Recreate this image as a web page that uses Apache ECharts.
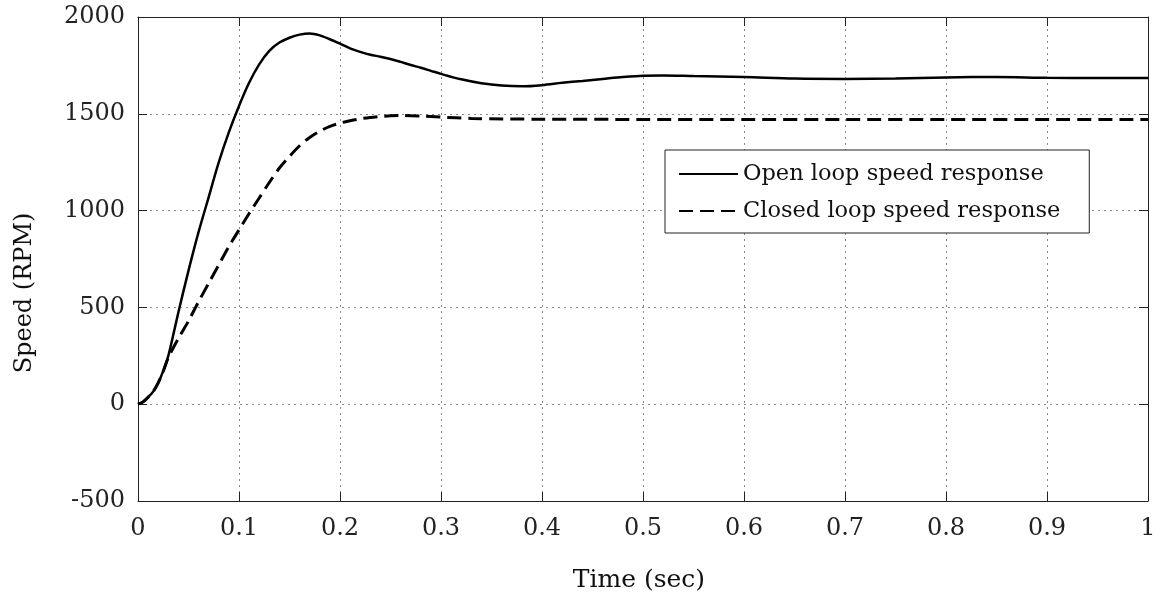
<!DOCTYPE html>
<html>
<head>
<meta charset="utf-8">
<script src="https://cdn.jsdelivr.net/npm/echarts@6/dist/echarts.min.js"></script>
<style>
html,body{margin:0;padding:0;background:#fff;}
#chart{width:1160px;height:597px;}
</style>
</head>
<body>
<div id="chart"></div>
<script>
// ---- data ----
var openTime = [0,0.005,0.01,0.015,0.02,0.025,0.03,0.035,0.04,0.05,0.06,0.07,0.08,0.09,0.1,0.11,0.12,0.13,0.14,0.15,0.16,0.17,0.18,0.19,0.2,0.21,0.22,0.23,0.24,0.25,0.26,0.27,0.28,0.29,0.3,0.32,0.34,0.36,0.38,0.4,0.42,0.44,0.46,0.48,0.5,0.52,0.55,0.6,0.65,0.7,0.75,0.8,0.85,0.9,0.95,1.0];
var openSpeed = [0,12,36,65,110,172,250,360,475,690,890,1070,1250,1405,1540,1660,1755,1825,1868,1893,1909,1915,1905,1885,1862,1838,1820,1805,1795,1783,1768,1752,1738,1722,1706,1678,1658,1646,1642,1648,1660,1670,1680,1690,1697,1698,1695,1690,1682,1680,1682,1688,1690,1686,1685,1685];
var closedTime = [0,0.005,0.01,0.015,0.02,0.025,0.03,0.04,0.05,0.06,0.07,0.08,0.09,0.1,0.11,0.12,0.13,0.14,0.15,0.16,0.17,0.18,0.19,0.2,0.21,0.22,0.23,0.24,0.25,0.26,0.28,0.3,0.33,0.4,0.5,0.6,0.7,0.8,0.9,1.0];
var closedSpeed = [0,12,36,65,110,170,240,340,430,530,625,720,815,900,985,1065,1145,1220,1280,1335,1378,1410,1435,1452,1464,1474,1481,1486,1490,1491,1488,1483,1476,1472,1471,1470,1470,1470,1470,1470];
var seriesNames = ['Open loop speed response','Closed loop speed response'];
var xTicks = [0,0.1,0.2,0.3,0.4,0.5,0.6,0.7,0.8,0.9,1];
var yTicks = [-500,0,500,1000,1500,2000];
var xTitle = 'Time (sec)';
var yTitle = 'Speed (RPM)';

function pairs(xs, ys){ return xs.map(function(x,i){ return [x, ys[i]]; }); }

var FONT = 'DejaVu Serif';
var AX = '#222';
var chart = echarts.init(document.getElementById('chart'), null, {renderer:'canvas'});

var xMin = xTicks[0], xMax = xTicks[xTicks.length-1], xInt = +(xTicks[1]-xTicks[0]).toFixed(3);
var yMin = yTicks[0], yMax = yTicks[yTicks.length-1], yInt = yTicks[1]-yTicks[0];

function xAx(pos, primary){
  return {
    type:'value', position:pos, min:xMin, max:xMax, interval:xInt,
    axisLine:{show:true, onZero:false, lineStyle:{color:AX, width:1}},
    axisTick:{show:true, inside:true, length:9, lineStyle:{color:AX, width:1}},
    axisLabel:{show:primary, margin:16, color:'#222', fontFamily:FONT, fontSize:24,
      formatter:function(v){ return String(Number(v.toFixed(1))); }},
    splitLine:{show:primary, lineStyle:{color:'#8a8a8a', type:[2,4], width:1}}
  };
}
function yAx(pos, primary){
  return {
    type:'value', position:pos, min:yMin, max:yMax, interval:yInt,
    axisLine:{show:true, onZero:false, lineStyle:{color:AX, width:1}},
    axisTick:{show:true, inside:true, length:9, lineStyle:{color:AX, width:1}},
    axisLabel:{show:primary, margin:13, color:'#222', fontFamily:FONT, fontSize:24,
      formatter:function(v){ return String(v); }},
    splitLine:{show:primary, lineStyle:{color:'#8a8a8a', type:[2,4], width:1}}
  };
}

chart.setOption({
  animation:false,
  backgroundColor:'#fff',
  grid:{left:138, top:17, right:12, bottom:96, containLabel:false},
  xAxis:[xAx('bottom', true), xAx('top', false)],
  yAxis:[yAx('left', true), yAx('right', false)],
  legend:{
    orient:'vertical', left:665, top:150,
    padding:[9, 29, 7, 13],
    itemWidth:59, itemHeight:14, itemGap:7,
    backgroundColor:'#fff', borderColor:'#222', borderWidth:1,
    itemStyle:{color:'rgba(0,0,0,0)', borderWidth:0, opacity:0},
    textStyle:{fontFamily:FONT, fontSize:22.5, color:'#111', lineHeight:30},
    data:seriesNames
  },
  series:[
    {name:seriesNames[0], type:'line', data:pairs(openTime, openSpeed), symbol:'none', smooth:0.3,
     lineStyle:{color:'#000', width:2.5, type:'solid'}, itemStyle:{color:'#000'}},
    {name:seriesNames[1], type:'line', data:pairs(closedTime, closedSpeed), symbol:'none', smooth:0.3,
     lineStyle:{color:'#000', width:3, type:[14,7]}, itemStyle:{color:'#000'}}
  ],
  graphic:[
    {type:'text', x:639, y:580, style:{text:xTitle, fontFamily:FONT, fontSize:25, fill:'#111', align:'center', verticalAlign:'middle'}},
    {type:'text', rotation:Math.PI/2, x:25, y:293, style:{text:yTitle, fontFamily:FONT, fontSize:24, fill:'#111', align:'center', verticalAlign:'middle'}}
  ]
});
</script>
</body>
</html>
